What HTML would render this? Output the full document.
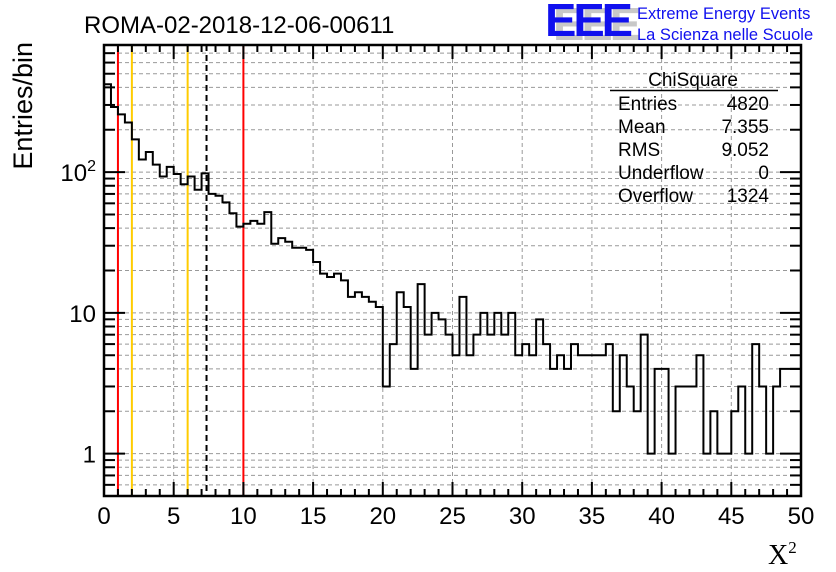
<!DOCTYPE html>
<html><head><meta charset="utf-8"><style>
html,body{margin:0;padding:0;background:#fff;}
svg{display:block;font-family:"Liberation Sans",sans-serif;}
</style></head><body>
<svg id="chart" width="836" height="572" viewBox="0 0 836 572">
<g id="grid"></g>
<g id="lines"></g>
<g id="hist"></g>
<g id="axes"></g>
<text x="84" y="33" font-size="24">ROMA-02-2018-12-06-00611</text>
<g>
<text x="553" y="40" font-size="46" font-weight="bold" fill="#c8c8c8" letter-spacing="-3" textLength="85" lengthAdjust="spacingAndGlyphs">EEE</text>
<text x="545" y="36" font-size="46" font-weight="bold" fill="#1010ee" letter-spacing="-3" textLength="85" lengthAdjust="spacingAndGlyphs">EEE</text>
<text x="637" y="19" font-size="16.5" fill="#1010ee">Extreme Energy Events</text>
<text x="637" y="40" font-size="16.5" fill="#1010ee">La Scienza nelle Scuole</text>
</g>
<g font-size="19">
<text x="693" y="86" text-anchor="middle">ChiSquare</text>
<line x1="610" y1="90.5" x2="778" y2="90.5" stroke="#000" stroke-width="1.5"/>
<text x="618" y="110">Entries</text><text x="769" y="110" text-anchor="end">4820</text>
<text x="618" y="133">Mean</text><text x="769" y="133" text-anchor="end">7.355</text>
<text x="618" y="156">RMS</text><text x="769" y="156" text-anchor="end">9.052</text>
<text x="618" y="179">Underflow</text><text x="769" y="179" text-anchor="end">0</text>
<text x="618" y="202">Overflow</text><text x="769" y="202" text-anchor="end">1324</text>
</g>
<text transform="translate(32,42) rotate(-90)" font-size="27" text-anchor="end" x="0" y="0">Entries/bin</text>
<text x="768" y="564" font-size="28" font-family="Liberation Serif,serif">X<tspan font-size="17" dy="-11">2</tspan></text>
</svg>
<script>
const binValues=[421,290,257,225,171,123,139,113,93,109,97,82,93,75,98,70,68,61,51,41,43,45,43,52,31,34,32,29,29,28,23,19,18,19,17,13,14,13,12,11,3,6,14,11,4,16,7,10,9,7,5,13,5,7,10,7,10,7,10,5,6,5,9,6,4,5,4,6,5,5,5,5,6,2,5,3,2,7,1,4,4,1,3,3,3,5,1,2,1,1,2,3,1,6,3,1,3,4,4,4];
const xTicks=[0,5,10,15,20,25,30,35,40,45,50];
const yTicks=[1,10,100];
const yTickLabels=["1","10","10²"];
const redCuts=[1,10];
const orangeCuts=[2,6];
const meanValue=7.355;
const xMin=0,xMax=50,yMin=0.5,yMax=800;
const L=104,R=801,T=45,B=496;
const ns="http://www.w3.org/2000/svg";
function X(v){return L+(v-xMin)/(xMax-xMin)*(R-L);}
function Y(v){return B-(Math.log10(v)-Math.log10(yMin))/(Math.log10(yMax)-Math.log10(yMin))*(B-T);}
function mk(tag,attrs,parent){const e=document.createElementNS(ns,tag);for(const k in attrs)e.setAttribute(k,attrs[k]);parent.appendChild(e);return e;}
const grid=document.getElementById('grid'),lines=document.getElementById('lines'),hist=document.getElementById('hist'),axes=document.getElementById('axes');
for(const t of xTicks){if(t===xMin||t===xMax)continue;const g=mk('line',{x1:X(t),x2:X(t),y1:T,y2:B,stroke:'#999','stroke-dasharray':'4,3','stroke-width':1},grid);

}
for(let d=0.1;d<=1000;d*=10){for(let m=1;m<10;m++){const v=d*m;if(v<=yMin||v>=yMax)continue;const g=mk('line',{x1:L,x2:R,y1:Y(v),y2:Y(v),stroke:'#999','stroke-dasharray':'4,3','stroke-width':1},grid);

}}
for(const c of redCuts){const l=mk('line',{x1:X(c),x2:X(c),y1:T,y2:B,stroke:'#ff0000','stroke-width':2},lines);

}
for(const c of orangeCuts){const l=mk('line',{x1:X(c),x2:X(c),y1:T,y2:B,stroke:'#ffcc00','stroke-width':2},lines);

}
const ml=mk('line',{x1:X(meanValue),x2:X(meanValue),y1:T,y2:B,stroke:'#000','stroke-width':2,'stroke-dasharray':'6,4'},lines);


const bw=(xMax-xMin)/binValues.length;
let d='M'+X(0)+','+B;
binValues.forEach((v,i)=>{const y=v>0?Math.min(Y(v),B):B;d+=' L'+X(i*bw)+','+y+' L'+X((i+1)*bw)+','+y;});
d+=' L'+X(xMax)+','+B;
const hp=mk('path',{d:d,fill:'none',stroke:'#000','stroke-width':2},hist);


const fr=mk('rect',{x:L,y:T,width:R-L,height:B-T,fill:'none',stroke:'#000','stroke-width':2.5},axes);


for(let v=xMin;v<=xMax;v+=1){const major=v%5===0;const len=major?14:7;
mk('line',{x1:X(v),x2:X(v),y1:B,y2:B-len,stroke:'#000','stroke-width':2},axes);
mk('line',{x1:X(v),x2:X(v),y1:T,y2:T+len,stroke:'#000','stroke-width':2},axes);}
xTicks.forEach(t=>{const tx=mk('text',{x:X(t),y:B+28,'font-size':24,'text-anchor':'middle'},axes);tx.textContent=String(t);

});
for(let dd=0.1;dd<=1000;dd*=10){for(let m=1;m<10;m++){const v=dd*m;if(v<yMin||v>yMax)continue;const len=m===1?21:11;
mk('line',{x1:L,x2:L+len,y1:Y(v),y2:Y(v),stroke:'#000','stroke-width':2},axes);
mk('line',{x1:R,x2:R-len,y1:Y(v),y2:Y(v),stroke:'#000','stroke-width':2},axes);}}
yTicks.forEach((t,i)=>{const tx=mk('text',{x:L-8,y:Y(t)+9,'font-size':24,'text-anchor':'end'},axes);
const lbl=yTickLabels[i];
if(lbl.endsWith('²')){tx.textContent=lbl.slice(0,-1);const ts=mk('tspan',{'font-size':16,dy:-10},tx);ts.textContent='2';}else tx.textContent=lbl;

});
</script>
</body></html>
